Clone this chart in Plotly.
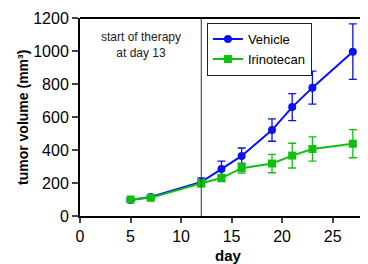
import plotly.graph_objects as go

days = [5, 7, 12, 14, 16, 19, 21, 23, 27]
vehicle = [97, 115, 206, 285, 364, 521, 660, 778, 996]
vehicle_err = [8, 10, 25, 48, 48, 68, 82, 100, 168]
irino = [100, 110, 198, 230, 290, 318, 366, 406, 438]
irino_err = [8, 10, 22, 22, 30, 56, 75, 73, 85]

blue = "#0a10f0"
green = "#10c010"

fig = go.Figure()
fig.add_trace(go.Scatter(
    x=days, y=vehicle, name="Vehicle", mode="lines+markers",
    line=dict(color=blue, width=2),
    marker=dict(symbol="circle", size=8, color=blue),
    error_y=dict(type="data", array=vehicle_err, color=blue, thickness=1.3, width=4),
    cliponaxis=False,
))
fig.add_trace(go.Scatter(
    x=days, y=irino, name="Irinotecan", mode="lines+markers",
    line=dict(color=green, width=2),
    marker=dict(symbol="square", size=8, color=green),
    error_y=dict(type="data", array=irino_err, color=green, thickness=1.3, width=4),
    cliponaxis=False,
))

fig.add_shape(type="line", x0=12, x1=12, y0=0, y1=1200, xref="x", yref="y",
              line=dict(color="#333333", width=1))
fig.add_shape(type="line", x0=0, x1=1, y0=1, y1=1, xref="paper", yref="paper",
              line=dict(color="black", width=2))

fig.add_annotation(x=6.0, y=1035, xref="x", yref="y",
                   text="start of therapy<br>at day 13", showarrow=False,
                   font=dict(family="Arial, Liberation Sans", size=12, color="#222"))

# axis titles
fig.add_annotation(x=-0.198, y=0.5, xref="paper", yref="paper", textangle=-90,
                   text="<b>tumor volume (mm³)</b>", showarrow=False,
                   xanchor="center", yanchor="middle",
                   font=dict(family="Arial, Liberation Sans", size=14, color="black"))
fig.add_annotation(x=0.515, y=-0.197, xref="paper", yref="paper",
                   text="<b>day</b>", showarrow=False,
                   xanchor="center", yanchor="middle",
                   font=dict(family="Arial, Liberation Sans", size=15, color="black"))

fig.update_layout(
    width=360, height=256,
    margin=dict(l=72, r=0, t=10, b=48, autoexpand=False),
    paper_bgcolor="white", plot_bgcolor="white",
    font=dict(family="Arial, Liberation Sans", color="black"),
    showlegend=True,
    legend=dict(x=0.44, y=0.975, xanchor="left", yanchor="top",
                bordercolor="#222", borderwidth=1.2, bgcolor="white",
                font=dict(size=13), tracegroupgap=0, itemwidth=30),
    xaxis=dict(range=[0, 28.5], tickvals=[0, 5, 10, 15, 20, 25],
               showgrid=False, zeroline=False, showline=True, linecolor="black",
               linewidth=2, ticks="outside", ticklen=5, tickwidth=2,
               tickfont=dict(size=16), automargin=False),
    yaxis=dict(range=[0, 1200], tickvals=[0, 200, 400, 600, 800, 1000, 1200],
               showgrid=False, zeroline=False, showline=True, linecolor="black",
               linewidth=2, ticks="outside", ticklen=6, tickwidth=2,
               tickfont=dict(size=16), automargin=False),
)

fig.write_html("out.html")
